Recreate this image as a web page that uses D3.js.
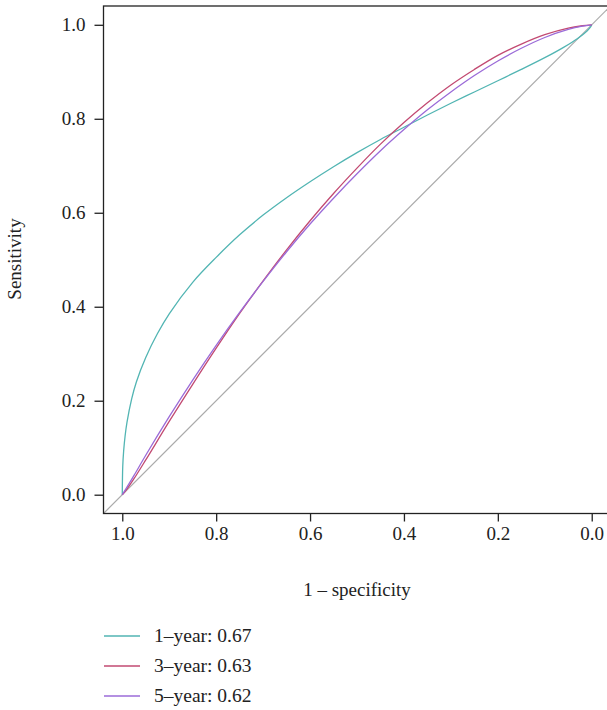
<!DOCTYPE html>
<html><head><meta charset="utf-8">
<script src="https://cdn.jsdelivr.net/npm/d3@7"></script>
<style>body{margin:0;background:#fff}svg{display:block}</style>
</head><body>
<script>
const xTicks = [1.0, 0.8, 0.6, 0.4, 0.2, 0.0];
const yTicks = [0.0, 0.2, 0.4, 0.6, 0.8, 1.0];
const seriesNames = ["1\u2013year: 0.67", "3\u2013year: 0.63", "5\u2013year: 0.62"];
const seriesColors = ["#52b5b3", "#c24a72", "#9b6bd8"];

const spec1 = [1.0, 0.999, 0.997, 0.994, 0.99, 0.98, 0.97, 0.95, 0.925, 0.90, 0.85, 0.80, 0.75, 0.70, 0.65, 0.60, 0.55, 0.50, 0.45, 0.40, 0.35, 0.30, 0.25, 0.20, 0.15, 0.10, 0.06, 0.03, 0.01, 0.002, 0.0];
const sens1 = [0.0, 0.060, 0.094, 0.125, 0.154, 0.204, 0.240, 0.292, 0.343, 0.385, 0.452, 0.505, 0.553, 0.595, 0.632, 0.666, 0.698, 0.728, 0.756, 0.782, 0.808, 0.833, 0.857, 0.881, 0.905, 0.930, 0.952, 0.971, 0.987, 0.996, 1.0];

const spec3 = [1.0, 0.99, 0.975, 0.95, 0.90, 0.85, 0.80, 0.75, 0.70, 0.65, 0.60, 0.55, 0.50, 0.45, 0.40, 0.35, 0.30, 0.25, 0.20, 0.15, 0.10, 0.05, 0.02, 0.0];
const sens3 = [0.0, 0.012, 0.034, 0.074, 0.156, 0.235, 0.312, 0.386, 0.455, 0.521, 0.583, 0.641, 0.695, 0.746, 0.792, 0.834, 0.872, 0.905, 0.935, 0.959, 0.979, 0.993, 0.998, 1.0];

const spec5 = [1.0, 0.99, 0.975, 0.95, 0.90, 0.85, 0.80, 0.75, 0.70, 0.65, 0.60, 0.55, 0.50, 0.45, 0.40, 0.35, 0.30, 0.25, 0.20, 0.15, 0.10, 0.05, 0.02, 0.0];
const sens5 = [0.0, 0.016, 0.041, 0.084, 0.166, 0.244, 0.318, 0.388, 0.454, 0.517, 0.576, 0.631, 0.683, 0.732, 0.777, 0.819, 0.857, 0.892, 0.923, 0.950, 0.973, 0.990, 0.997, 1.0];

const W = 607, H = 710;
const svg = d3.select("body").append("svg").attr("width", W).attr("height", H);
const font = "'Liberation Serif', 'Times New Roman', serif";

const x = d3.scaleLinear().domain([1.04, -0.04]).range([103.5, 610.5]);
const y = d3.scaleLinear().domain([-0.04, 1.04]).range([513.5, 6]);

// diagonal
svg.append("line")
  .attr("x1", x(1.04)).attr("y1", y(-0.04))
  .attr("x2", x(-0.04)).attr("y2", y(1.04))
  .attr("stroke", "#aaaaaa").attr("stroke-width", 1.2);

const series = [
  {s: spec1, v: sens1},
  {s: spec3, v: sens3},
  {s: spec5, v: sens5}
];
const line = d3.line().x(d => x(d[0])).y(d => y(d[1])).curve(d3.curveCatmullRom.alpha(0.5));
series.forEach((d, i) => {
  svg.append("path")
    .attr("d", line(d.s.map((s, j) => [s, d.v[j]])))
    .attr("fill", "none").attr("stroke", seriesColors[i]).attr("stroke-width", 1.3);
});

// box
svg.append("rect").attr("x", 103.5).attr("y", 6).attr("width", 507).attr("height", 507.5)
  .attr("fill", "none").attr("stroke", "#222").attr("stroke-width", 1.3);

// axes
const gx = svg.append("g").attr("transform", "translate(0,513.5)")
  .call(d3.axisBottom(x).tickValues(xTicks).tickSize(8).tickPadding(5).tickFormat(d3.format(".1f")));
const gy = svg.append("g").attr("transform", "translate(103.5,0)")
  .call(d3.axisLeft(y).tickValues(yTicks).tickSize(9).tickPadding(9).tickFormat(d3.format(".1f")));
[gx, gy].forEach(g => {
  g.select(".domain").remove();
  g.selectAll(".tick line").attr("stroke", "#222").attr("stroke-width", 1.3);
  g.selectAll(".tick text").attr("font-family", font).attr("font-size", 19).attr("fill", "#222");
});

svg.append("text").attr("x", 357).attr("y", 596).attr("text-anchor", "middle")
  .attr("font-family", font).attr("font-size", 19).attr("fill", "#222").text("1 \u2013 specificity");
svg.append("text").attr("transform", "translate(21,259) rotate(-90)").attr("text-anchor", "middle")
  .attr("font-family", font).attr("font-size", 19).attr("fill", "#222").text("Sensitivity");

// legend
const leg = svg.append("g");
seriesNames.forEach((n, i) => {
  const yy = 636 + i * 30;
  leg.append("line").attr("x1", 104).attr("x2", 140).attr("y1", yy).attr("y2", yy)
    .attr("stroke", seriesColors[i]).attr("stroke-width", 1.3);
  leg.append("text").attr("x", 154).attr("y", yy + 6)
    .attr("font-family", font).attr("font-size", 19.5).attr("fill", "#222").text(n);
});
</script>
</body></html>
